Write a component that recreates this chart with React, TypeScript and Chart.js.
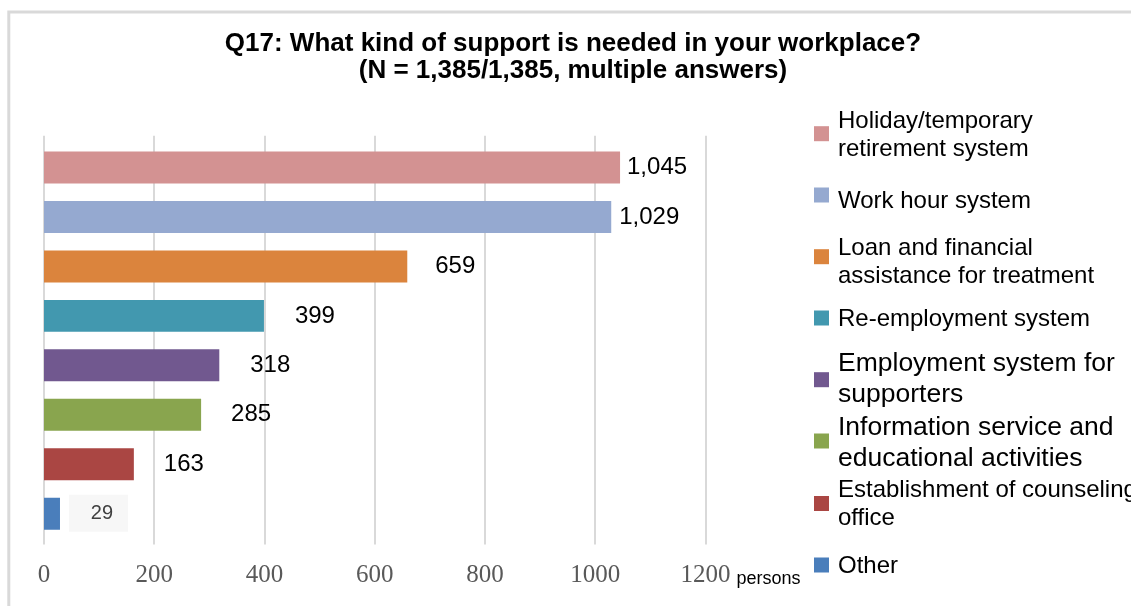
import React, { useEffect, useRef } from "react";
import { Chart, registerables } from "chart.js";

Chart.register(...registerables);

// ---------- data ----------
const categories: string[][] = [
  ["Holiday/temporary", "retirement system"],
  ["Work hour system"],
  ["Loan and financial", "assistance for treatment"],
  ["Re-employment system"],
  ["Employment system for", "supporters"],
  ["Information service and", "educational activities"],
  ["Establishment of counseling", "office"],
  ["Other"],
];
const values = [1045, 1029, 659, 399, 318, 285, 163, 29];
const valueLabels = ["1,045", "1,029", "659", "399", "318", "285", "163", "29"];
const xTicks = [0, 200, 400, 600, 800, 1000, 1200];
const titleLines = [
  "Q17: What kind of support is needed in your workplace?",
  "(N = 1,385/1,385, multiple answers)",
];
const unitLabel = "persons";

// ---------- styles ----------
const barColors = [
  "#D39292",
  "#95A9D0",
  "#DB843D",
  "#4298AF",
  "#71588F",
  "#89A54E",
  "#AA4643",
  "#4A7EBB",
];
const LABEL_OFFSETS = [37, 38, 48, 51, 51, 50, 50, 42];
const LEGEND_FIRST_LINE_Y = [121.7, 201, 248, 319, 364, 428, 490, 566];
const LEGEND_FONT_SIZE = [24, 24, 24, 24, 26.5, 26.5, 24, 24];
const LEGEND_SQUARE_Y = [133.7, 195, 256.7, 318, 379.7, 441, 503.5, 565];
const SANS = '"Liberation Sans", Arial, sans-serif';
const SERIF = '"Liberation Serif", "Times New Roman", serif';

const decorPlugin = {
  id: "decor",
  beforeDraw(chart: any) {
    const ctx = chart.ctx as CanvasRenderingContext2D;
    const W = chart.width;
    const H = chart.height;
    ctx.save();
    ctx.fillStyle = "#ffffff";
    ctx.fillRect(0, 0, W, H);
    // outer frame (top & left)
    ctx.strokeStyle = "#d9d9d9";
    ctx.lineWidth = 3;
    ctx.beginPath();
    ctx.moveTo(8.8, H + 2);
    ctx.lineTo(8.8, 12);
    ctx.lineTo(W + 2, 12);
    ctx.stroke();

    // title
    ctx.fillStyle = "#000000";
    ctx.font = `bold 26px ${SANS}`;
    ctx.textAlign = "center";
    ctx.textBaseline = "middle";
    ctx.fillText(titleLines[0], 573, 44);
    ctx.fillText(titleLines[1], 573, 71);

    // vertical gridlines
    const xs = chart.scales.x;
    const area = chart.chartArea;
    ctx.strokeStyle = "#d9d9d9";
    ctx.lineWidth = 2;
    xTicks.forEach((v) => {
      const px = Math.round(xs.getPixelForValue(v));
      ctx.beginPath();
      ctx.moveTo(px, area.top - 7);
      ctx.lineTo(px, area.bottom + 6);
      ctx.stroke();
    });
    ctx.restore();
  },
  afterDatasetsDraw(chart: any) {
    const ctx = chart.ctx as CanvasRenderingContext2D;
    const meta = chart.getDatasetMeta(0);
    ctx.save();
    ctx.textAlign = "center";
    ctx.textBaseline = "middle";
    meta.data.forEach((el: any, i: number) => {
      const cx = el.x + LABEL_OFFSETS[i];
      const cy = el.y;
      const last = i === values.length - 1;
      if (last) {
        ctx.fillStyle = "#f7f7f7";
        ctx.fillRect(cx - 33, cy - 19, 59, 37);
      }
      ctx.fillStyle = last ? "#404040" : "#000000";
      ctx.font = `${last ? 20 : 24}px ${SANS}`;
      ctx.fillText(valueLabels[i], cx, cy);
    });
    ctx.restore();
  },
  afterDraw(chart: any) {
    const ctx = chart.ctx as CanvasRenderingContext2D;
    const xs = chart.scales.x;
    ctx.save();
    // unit label
    ctx.fillStyle = "#000000";
    ctx.font = `18px ${SANS}`;
    ctx.textAlign = "left";
    ctx.textBaseline = "alphabetic";
    ctx.fillText(unitLabel, xs.getPixelForValue(xTicks[xTicks.length - 1]) + 31, 584);

    // legend
    ctx.textBaseline = "middle";
    categories.forEach((lines, i) => {
      ctx.fillStyle = barColors[i];
      ctx.fillRect(814, LEGEND_SQUARE_Y[i] - 7.5, 15, 15);
      const fs = LEGEND_FONT_SIZE[i];
      ctx.font = `${fs}px ${SANS}`;
      ctx.fillStyle = "#000000";
      lines.forEach((ln, j) => {
        ctx.fillText(ln, 838, LEGEND_FIRST_LINE_Y[i] + j * (fs * 1.17));
      });
    });
    ctx.restore();
  },
};

export default function App() {
  const ref = useRef<HTMLCanvasElement | null>(null);

  useEffect(() => {
    if (!ref.current) return;
    const chart = new Chart(ref.current, {
      type: "bar",
      data: {
        labels: categories.map((c) => c.join(" ")),
        datasets: [
          {
            data: values,
            backgroundColor: barColors,
            borderWidth: 0,
            categoryPercentage: 1,
            barPercentage: 0.647,
          },
        ],
      },
      options: {
        indexAxis: "y",
        responsive: false,
        animation: false,
        devicePixelRatio: 1,
        layout: { padding: { left: 44, right: 425.5, top: 142.8, bottom: 15.6 } },
        plugins: {
          legend: { display: false },
          title: { display: false },
          tooltip: { enabled: false },
        },
        scales: {
          x: {
            type: "linear",
            position: "bottom",
            min: 0,
            max: 1200,
            grid: { display: false, drawTicks: false },
            border: { display: false },
            afterBuildTicks: (scale: any) => {
              scale.ticks = xTicks.map((v) => ({ value: v }));
            },
            ticks: {
              padding: 22,
              color: "#595959",
              autoSkip: false,
              maxRotation: 0,
              font: { family: SERIF, size: 25 },
              callback: (v: any) => String(v),
            },
            afterFit: (scale: any) => {
              scale.height = 52;
              scale.paddingLeft = 0;
              scale.paddingRight = 0;
            },
          },
          y: {
            display: false,
            grid: { display: false },
          },
        },
      } as any,
      plugins: [decorPlugin],
    });
    return () => chart.destroy();
  }, []);

  return (
    <div style={{ position: "absolute", left: 0, top: 0, width: 1131, height: 606, background: "#fff" }}>
      <canvas ref={ref} width={1131} height={606} style={{ display: "block" }} />
    </div>
  );
}
